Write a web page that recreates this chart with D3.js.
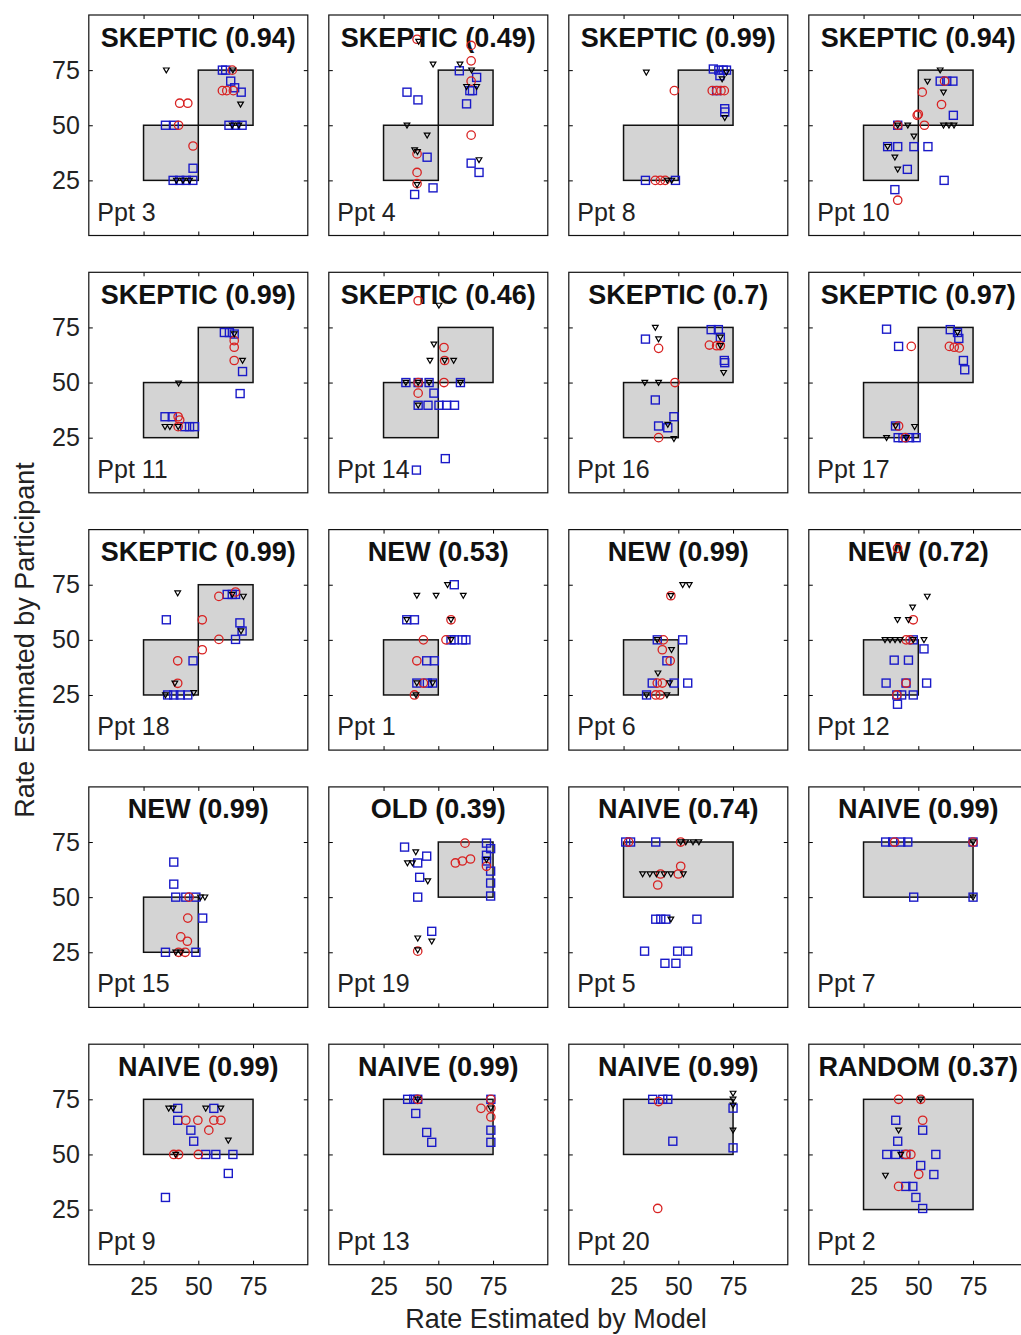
<!DOCTYPE html>
<meta charset="utf-8">
<style>
    body {
        margin: 0;
        background: #fff;
    }
    svg {
        font-family: "Liberation Sans", Arial, sans-serif;
    }
    .tick line {
        stroke: #000;
    }
    .tick text {
        fill: #222;
    }
</style>
<body>
<script src="https://d3js.org/d3.v7.min.js"></script>
<script>
    // panel order: left to right, top to bottom
    const models = ["SKEPTIC", "SKEPTIC", "SKEPTIC", "SKEPTIC",
                    "SKEPTIC", "SKEPTIC", "SKEPTIC", "SKEPTIC",
                    "SKEPTIC", "NEW", "NEW", "NEW",
                    "NEW", "OLD", "NAIVE", "NAIVE",
                    "NAIVE", "NAIVE", "NAIVE", "RANDOM"];
    const fits = ["0.94", "0.49", "0.99", "0.94",
                  "0.99", "0.46", "0.7", "0.97",
                  "0.99", "0.53", "0.99", "0.72",
                  "0.99", "0.39", "0.74", "0.99",
                  "0.99", "0.99", "0.99", "0.37"];
    const ppts = [3, 4, 8, 10, 11, 14, 16, 17, 18, 1, 6, 12, 15, 19, 5, 7, 9, 13, 20, 2];

    // shaded regions per model: [x0, x1, y0, y1]
    const regions = {
        SKEPTIC: [[25, 50, 25, 50], [50, 75, 50, 75]],
        NEW: [[25, 50, 25, 50]],
        OLD: [[50, 75, 50, 75]],
        NAIVE: [[25, 75, 50, 75]],
        RANDOM: [[25, 75, 25, 75]]
    };

    const ticks = [25, 50, 75];

    // blue squares
    const squares = [
        [[35,50],[39,50],[47.6,30.5],[38.5,25],[41.5,25],[44.5,25],[47.5,25],[61,75],[62.5,75],[64.8,70],[66.6,67],[69.6,65],[64,50],[67,50],[70,50]],
        [[59.6,74.7],[67.5,71.7],[64.4,65.7],[65.6,65.7],[62.9,59.7],[35.7,65],[40.7,61.5],[44.9,35.5],[65,32.8],[68.6,28.6],[47.6,21.6],[39.2,18.6]],
        [[66,75.5],[68.5,75],[70.5,75],[72,75],[69,72.5],[71.2,57.5],[71.2,56],[35,25],[48.7,25],[67.5,65.7]],
        [[60,70],[63,70],[65.8,70],[66,54.5],[40.6,50],[36,40.3],[40.6,40.3],[48,40.3],[54.4,40.3],[45,30],[61.8,25],[39.3,20.8]],
        [[61.9,72.7],[64.2,72.7],[66.4,72],[70.2,55],[69.1,45],[34.8,34.5],[38.1,34.5],[43.8,30],[46,30],[48.3,30]],
        [[35.2,50],[40.8,50],[45.8,50],[60.1,50],[48,45.2],[40.8,39.7],[45.3,39.7],[50.3,39.7],[53.8,39.7],[57.4,39.7],[53.2,15.5],[40,10.3]],
        [[35,69.7],[65,74],[68.3,74],[69.2,70.5],[71,60],[71.2,59],[39.5,42.1],[48,34.5],[41,30.3],[45.2,29.5]],
        [[35.5,74.2],[41,66.4],[64.6,74],[67.9,72.7],[68.5,70],[70.6,60],[71.2,55.8],[39.6,30.3],[40.8,25],[43,25],[46,25],[49,25]],
        [[35.4,59.1],[63.2,70.6],[65.5,70.6],[67,70.6],[69,57.7],[70,54],[67,50.2],[47.6,40.5],[36,25],[38.8,25],[41.8,25],[45.2,25]],
        [[57.3,75],[35.6,59.1],[39.1,59.1],[57.3,50],[61,50],[62.6,50],[55.8,50],[44.7,40.5],[48.2,40.5],[40.2,30.4],[45,30.4],[47.4,30.4]],
        [[40.4,50],[52,50],[44.8,40.5],[38.1,30.4],[48.1,30.4],[54.3,30.4],[35.5,25]],
        [[47.7,50],[52.6,45.9],[39,40.8],[45.5,40.8],[35.3,30.4],[44.4,30.4],[53.8,30.4],[40.2,25],[42.4,25],[47.7,25],[40.5,20.8]],
        [[38.8,65.9],[38.8,55.9],[39.7,50],[44.3,50],[48.9,50],[52,40.5],[35,25],[48.9,25]],
        [[34.6,72.7],[40.6,65.5],[44.7,68.6],[41.5,59],[40.6,50],[72,74.5],[73.9,72],[72,69],[72,66.4],[73.9,61.8],[73.9,56.4],[73.9,50.5],[47,34.5]],
        [[26,75],[28.2,75],[39.7,75],[39.7,40],[42,40],[44.3,40],[58.5,40],[34.6,25.5],[49.7,25.5],[54.3,25.5],[43.9,20],[48.9,20]],
        [[35.1,75],[38.3,75],[42,75],[45.2,75],[75,75],[47.9,50],[75,50]],
        [[40.6,70.9],[40.6,65.5],[46.6,61],[57.1,70.9],[47.9,56],[53.4,50],[58,50],[65.8,50],[63.7,41.4],[35,30.5]],
        [[36,75],[38.8,75],[40.6,75],[39.7,68.6],[44.7,60],[47,55.5],[74,75],[74,61],[74,55.5]],
        [[38.3,75],[42.9,75],[45.2,75],[75,71],[47.5,56],[75,53]],
        [[39.7,65.5],[52,61],[40.6,56],[35.6,50],[39.7,50],[44.3,50],[58,50],[51.1,45],[57.1,40.9],[44.3,35.5],[47.5,35.5],[48.9,30.5],[52,25.5]]
    ];

    // red circles
    const circles = [
        [[41.5,60],[45.2,60],[41,50],[47.6,40.6],[65.5,75],[61,65.7],[63,65.7],[66,65.7]],
        [[40.3,89],[65,86.2],[65,79.2],[65,70],[65,45.5],[40.3,37],[40.3,28.6],[40.3,23.5]],
        [[48.2,65.7],[65.5,65.7],[67.5,65.7],[69.5,65.7],[71,65.7],[39.5,25],[41.8,25],[44,25]],
        [[62,70],[51.8,65],[60.6,59.4],[49.5,54.5],[50,55],[52.8,50],[40.6,50],[40.6,16]],
        [[66.4,69],[66.4,66],[66.4,60],[40.8,34.5],[41.5,33],[40.8,30]],
        [[40.8,87.1],[52.6,65.9],[52.9,60],[40.8,50],[52.6,50],[40.8,45.2]],
        [[41,65.5],[64.2,67],[67.5,66.7],[69.2,66.7],[48.5,50],[41,25]],
        [[46.8,66.4],[64.2,66.4],[66.4,66],[68.7,65.7],[41,30.3],[44,25]],
        [[59.4,69.7],[67,71.7],[51.8,59.1],[59.4,50.2],[51.8,45.5],[40.6,40.5],[40.6,30.3]],
        [[55.8,59.1],[43.2,50],[53.5,50],[40.2,40.5],[43.2,30.4],[39.1,25]],
        [[46.6,70],[43.2,50],[42.7,45.5],[46.3,40.5],[40.4,30.4],[42.7,30.4],[39.7,25],[41.7,25]],
        [[40.5,91.5],[47.7,59.1],[44.4,50],[46.2,50],[44.4,30.4],[40.2,25]],
        [[45.8,50],[45.2,40.5],[42,32],[45,30],[41,25],[44,25]],
        [[62.2,74.5],[57.8,65.5],[61,66.4],[64.7,67.3],[72,64],[40.6,25.5]],
        [[27.3,75],[51.1,75],[51.1,64],[41.9,60.5],[40.6,55.5],[50,60.5]],
        [[39.2,75],[75,75]],
        [[44.3,65.5],[49.8,65.5],[54.8,61],[57.1,65.5],[60.3,65.5],[38.8,50],[41,50],[50,50]],
        [[40.6,75],[69.5,70.9],[74,75],[74,71],[74,67]],
        [[41,74],[40.6,25.5]],
        [[41,75],[51.1,75],[52,65.5],[44.3,50],[46.6,50],[50.2,41],[41,35.5]]
    ];

    // black downward triangles
    const triangles = [
        [[35.4,75],[40,25],[43,25],[46,25],[65.8,75],[69.3,59.5],[65.5,50],[68.5,50]],
        [[41,88],[47.6,77.7],[59.9,77.7],[65.2,75],[62.9,67.5],[67.5,67.5],[35.7,50],[44.9,45.5],[39.2,38.8],[40.5,38],[68.6,34.3],[40.3,23]],
        [[35.4,74],[70,71],[71.2,53.4],[45,25],[47,25],[72,74]],
        [[60,75],[54.2,69.9],[61.5,65],[61.5,50],[64,50],[66.3,50],[40.6,50],[45.2,50],[48,45],[36,40.3],[39.3,35.5],[40.6,30]],
        [[66.4,72],[70.2,60],[41,49.7],[34.8,30],[37,30],[40.8,30]],
        [[50.3,85],[48,67.4],[46.2,60],[52.9,60],[57,60],[35.2,50],[40.8,50],[45.8,50],[60.1,50],[40.8,39.7]],
        [[39.5,75],[41,69.7],[69.2,70.5],[69.2,66.7],[70.7,54.5],[34.7,50],[41,50],[45.2,31],[48,24.5]],
        [[48.3,30],[35.5,25],[67.9,72.7],[39.6,30.3],[44.5,25]],
        [[40.6,71.2],[70.6,69.7],[65.5,70.6],[69.5,54],[39.3,30.3],[47.9,26],[35,25]],
        [[54.2,75],[40.2,70.1],[49,70.1],[61.4,70.1],[35.6,59.1],[55.8,59.1],[55.8,50],[40.2,30.4],[47.4,30.4],[39.8,25]],
        [[52,75],[55,75],[46.6,70],[40.4,50],[46.9,45.5],[40.7,34.9],[44.8,25],[35.5,25],[46,30.4]],
        [[54.1,69.7],[47.4,64.8],[40.5,59.1],[45.5,59.1],[34.8,50],[37.1,50],[39.4,50],[41.7,50],[47.7,50],[52.6,50]],
        [[51,50],[53,50],[39.7,25],[42,25]],
        [[39.7,70.5],[35.9,65.5],[38.2,65.5],[45.2,57.3],[72,67],[40.6,31.4],[47,30],[40.6,26]],
        [[53.4,75],[56.7,75],[59.4,75],[51.1,75],[33.7,60.5],[37,60.5],[40,60.5],[43.5,60.5],[46.6,60.5],[52.3,60.5],[46.6,40]],
        [[75,75],[75,50]],
        [[36.5,70.9],[38.5,70.9],[53.4,70.9],[60.3,70.9],[63.7,56.4],[39.7,50]],
        [[40.6,75],[74,71]],
        [[75,77.7],[75,75],[75,72.3],[75,61]],
        [[51.1,75],[41,61],[35,40.5],[42,50]]
    ];

    const left0 = 88.8, colStep = 240, top0 = 15, rowStep = 257.3;
    const pw = 219, ph = 220.5;

    const svg = d3.select('body')
        .append('svg')
        .attr('width', 1021)
        .attr('height', 1335);

    const x = d3.scaleLinear().domain([0, 100]).range([0, pw]);
    const y = d3.scaleLinear().domain([0, 100]).range([ph, 0]);

    const tri = d3.symbol().type(d3.symbolTriangle).size(14);

    models.forEach((m, i) => {
        const col = i % 4, row = Math.floor(i / 4);
        const g = svg.append('g')
            .attr('transform', `translate(${left0 + col * colStep},${top0 + row * rowStep})`);

        g.append('rect')
            .attr('width', pw)
            .attr('height', ph)
            .style('fill', '#fff');

        // model region(s)
        g.selectAll('.region')
            .data(regions[m])
            .enter().append('rect')
            .attr('class', 'region')
            .attr('x', d => x(d[0]))
            .attr('y', d => y(d[3]))
            .attr('width', d => x(d[1]) - x(d[0]))
            .attr('height', d => y(d[2]) - y(d[3]))
            .style('fill', '#d4d4d4')
            .style('stroke', '#111')
            .style('stroke-width', 1.5);

        // axes with inward ticks on all four sides
        const bottom = d3.axisBottom(x).tickValues(ticks).tickSizeInner(-4).tickSizeOuter(0).tickPadding(13);
        const left = d3.axisLeft(y).tickValues(ticks).tickSizeInner(-4).tickSizeOuter(0).tickPadding(9);
        if (row < 4) bottom.tickFormat('');
        if (col > 0) left.tickFormat('');

        g.append('g').attr('class', 'axis').attr('transform', `translate(0,${ph})`).call(bottom);
        g.append('g').attr('class', 'axis').call(left);
        g.append('g').attr('class', 'axis')
            .call(d3.axisTop(x).tickValues(ticks).tickSizeInner(-4).tickSizeOuter(0).tickFormat(''));
        g.append('g').attr('class', 'axis').attr('transform', `translate(${pw},0)`)
            .call(d3.axisRight(y).tickValues(ticks).tickSizeInner(-4).tickSizeOuter(0).tickFormat(''));
        g.selectAll('.axis .domain').remove();
        g.selectAll('.axis text')
            .style('font-size', '25px')
            .style('font-family', '"Liberation Sans", Arial, sans-serif');

        g.append('rect')
            .attr('width', pw)
            .attr('height', ph)
            .style('fill', 'none')
            .style('stroke', '#111')
            .style('stroke-width', 1.2);

        g.append('text')
            .attr('x', pw / 2)
            .attr('y', 31.5)
            .attr('text-anchor', 'middle')
            .style('font-weight', 'bold')
            .style('font-size', '27px')
            .style('fill', '#111')
            .text(m + ' (' + fits[i] + ')');

        g.append('text')
            .attr('x', 8.5)
            .attr('y', ph - 15)
            .style('font-size', '25px')
            .style('fill', '#222')
            .text('Ppt ' + ppts[i]);

        g.selectAll('.sq')
            .data(squares[i])
            .enter().append('rect')
            .attr('class', 'sq')
            .attr('x', d => x(d[0]) - 4)
            .attr('y', d => y(d[1]) - 4)
            .attr('width', 8)
            .attr('height', 8)
            .style('fill', 'none')
            .style('stroke', '#1a1ac8')
            .style('stroke-width', 1.4);

        g.selectAll('.ci')
            .data(circles[i])
            .enter().append('circle')
            .attr('class', 'ci')
            .attr('cx', d => x(d[0]))
            .attr('cy', d => y(d[1]))
            .attr('r', 4.2)
            .style('fill', 'none')
            .style('stroke', '#d82222')
            .style('stroke-width', 1.3);

        g.selectAll('.tr')
            .data(triangles[i])
            .enter().append('path')
            .attr('class', 'tr')
            .attr('d', tri)
            .attr('transform', d => `translate(${x(d[0])},${y(d[1]) - 0.5}) rotate(180)`)
            .style('fill', 'none')
            .style('stroke', '#000')
            .style('stroke-width', 1.2);
    });

    svg.append('text')
        .attr('transform', 'translate(34,640) rotate(-90)')
        .attr('text-anchor', 'middle')
        .style('font-size', '27px')
        .style('fill', '#222')
        .text('Rate Estimated by Participant');

    svg.append('text')
        .attr('x', 556)
        .attr('y', 1328)
        .attr('text-anchor', 'middle')
        .style('font-size', '27px')
        .style('fill', '#222')
        .text('Rate Estimated by Model');
</script>
</body>
</html>
